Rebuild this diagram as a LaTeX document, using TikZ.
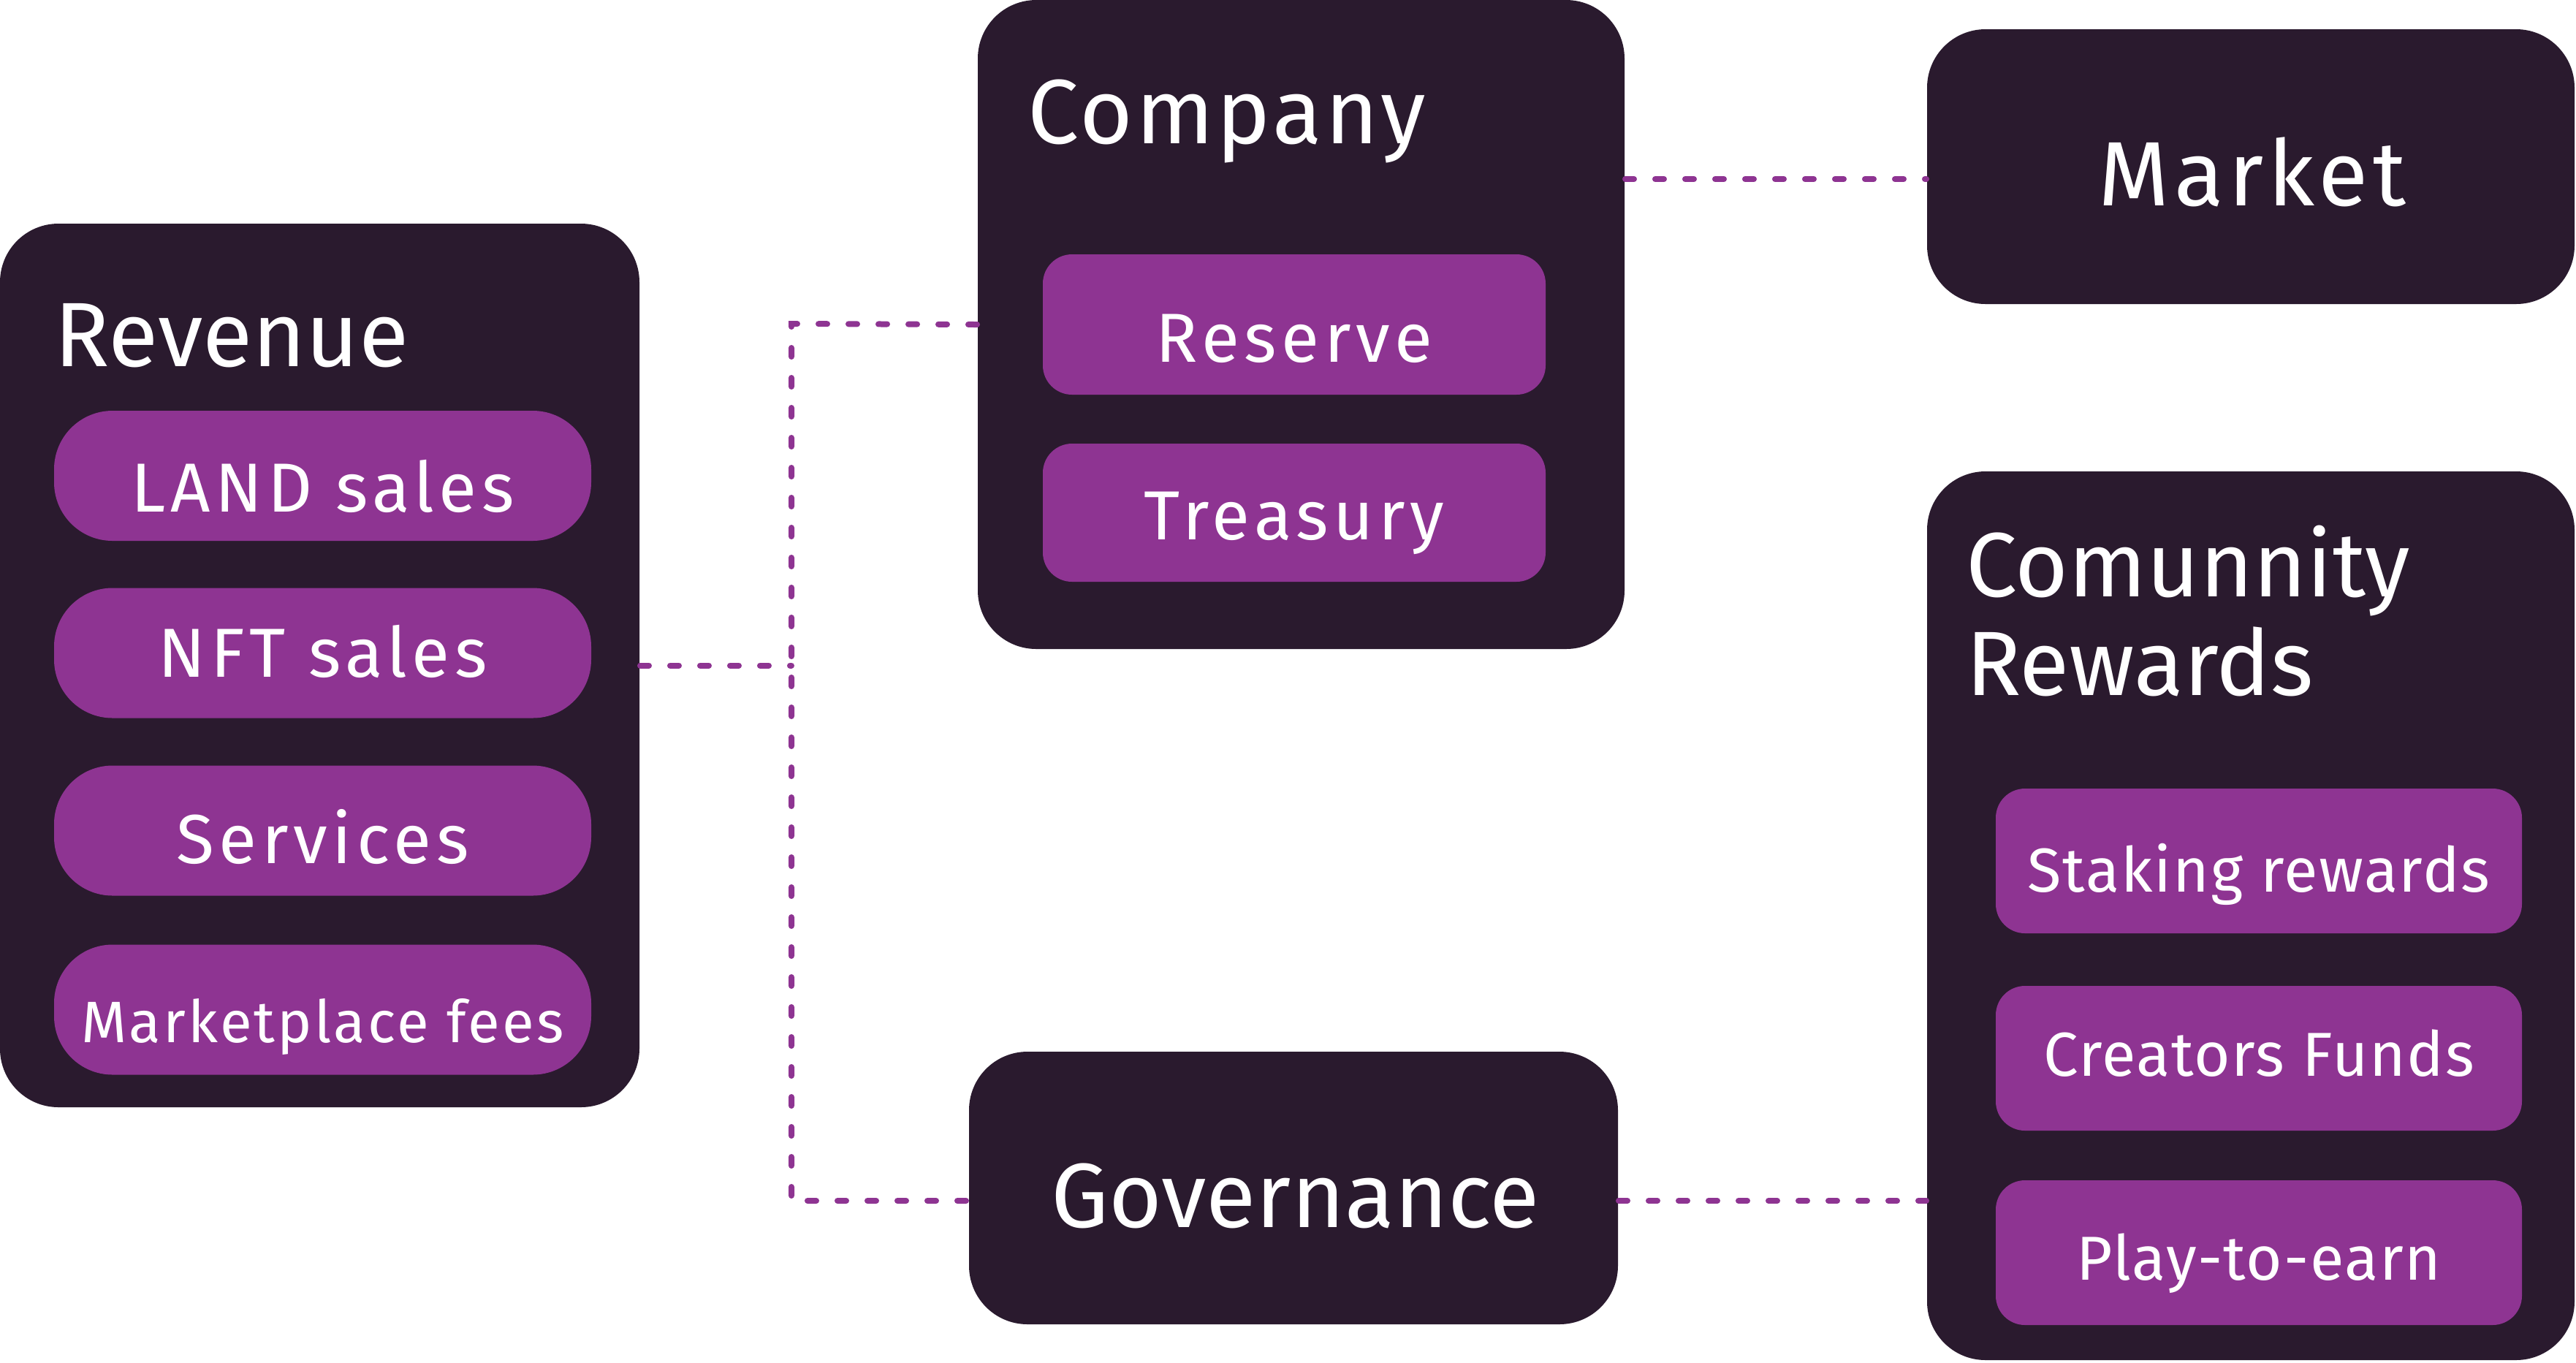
\documentclass[tikz,border=0pt]{standalone}
\usepackage{fontspec}
\setmainfont{Fira Sans}
\definecolor{dk}{HTML}{2A1A2E}
\definecolor{pu}{HTML}{8E3492}
\newcommand{\shifttext}[2]{\raisebox{#1}[0pt][0pt]{#2}}
\begin{document}
\begin{tikzpicture}[
 x=1pt,y=-1pt,
 darkbox/.style={fill=dk, draw=none, rounded corners=16pt, inner sep=0pt},
 pill/.style={fill=pu, draw=none, rounded corners=16pt, inner sep=0pt, text=white, font=\fontsize{19}{22}\selectfont\addfontfeatures{LetterSpace=7}, minimum width=147pt, minimum height=35.6pt, text height=13.1pt, text depth=0pt},
 subbox/.style={fill=pu, draw=none, rounded corners=8pt, inner sep=0pt, text=white, font=\fontsize{19}{22}\selectfont\addfontfeatures{LetterSpace=7}, text height=13.1pt, text depth=0pt},
 combox/.style={subbox, minimum width=144pt, minimum height=39.6pt, font=\fontsize{17}{20}\selectfont\addfontfeatures{LetterSpace=2}, text height=11.7pt},
 title/.style={text=white, inner sep=0pt, font=\fontsize{25}{30}\selectfont},
 link/.style={draw=pu, line width=1.6pt, line cap=round, dash pattern=on 2.4pt off 5.8pt},
]
\useasboundingbox (0,0) rectangle (705,372.8);

% main boxes
\node[darkbox, minimum width=175pt, minimum height=241.8pt] (rev) at (87.5,182.1) {};
\node[darkbox, minimum width=177pt, minimum height=177.6pt] (comp) at (356.1,88.8) {};
\node[darkbox, minimum width=177.2pt, minimum height=75.2pt] (mkt) at (616,45.6) {};
\node[darkbox, minimum width=177.2pt, minimum height=243.2pt] (comm) at (616,250.6) {};
\node[darkbox, minimum width=177.6pt, minimum height=74.6pt] (gov) at (354,325.1) {};

% titles
\node[title, anchor=base west] (revt) at (14.8,100.2) {Revenue};
\node[title, anchor=base west, font=\fontsize{25}{30}\selectfont\addfontfeatures{LetterSpace=3}] (compt) at (281,39.2) {Company};
\node[title, anchor=base, font=\fontsize{25}{30}\selectfont\addfontfeatures{LetterSpace=5}] (mktt) at (616.4,56.2) {Market};
\node[title, anchor=base west] (commt1) at (537.8,163.2) {Comunnity};
\node[title, anchor=base west] (commt2) at (537.8,190.3) {Rewards};
\node[title, anchor=base] (govt) at (354.5,335.8) {Governance};

% revenue items
\node[pill] (land) at (88.3,130.2) {\shifttext{-3.3pt}{LAND sales}};
\node[pill] (nft) at (88.3,178.7) {\shifttext{0pt}{NFT sales}};
\node[pill] (serv) at (88.3,227.3) {\shifttext{-2.4pt}{Services}};
\node[pill, font=\fontsize{16}{20}\selectfont\addfontfeatures{LetterSpace=4}, text height=11pt] (mkfee) at (88.3,276.3) {\shifttext{-3.4pt}{Marketplace fees}};

% company items
\node[subbox, minimum width=137.6pt, minimum height=38.4pt] (res) at (354.2,88.8) {\shifttext{-3.8pt}{Reserve}};
\node[subbox, minimum width=137.6pt, minimum height=37.8pt] (tre) at (354.2,140.3) {\shifttext{-0.9pt}{Treasury}};

% community items
\node[combox] (stk) at (618.2,235.6) {\shifttext{-2.7pt}{Staking rewards}};
\node[combox] (cre) at (618.2,289.6) {\shifttext{0.9pt}{Creators Funds}};
\node[combox] (p2e) at (618.2,342.8) {\shifttext{-1.6pt}{Play-to-earn}};

% connectors
\coordinate (j1) at (216.6,88.6);
\coordinate (j2) at (216.6,328.6);
\coordinate (jm) at (0,49);
\draw[link] (comp.west) -- (j1) -- (j2) -- (gov.west |- j2);
\draw[link] (rev.east) -- (j1 |- rev.east);
\draw[link] (comp.east |- jm) -- (mkt.west |- jm);
\draw[link] (gov.east |- j2) -- (comm.west |- j2);
\end{tikzpicture}
\end{document}
